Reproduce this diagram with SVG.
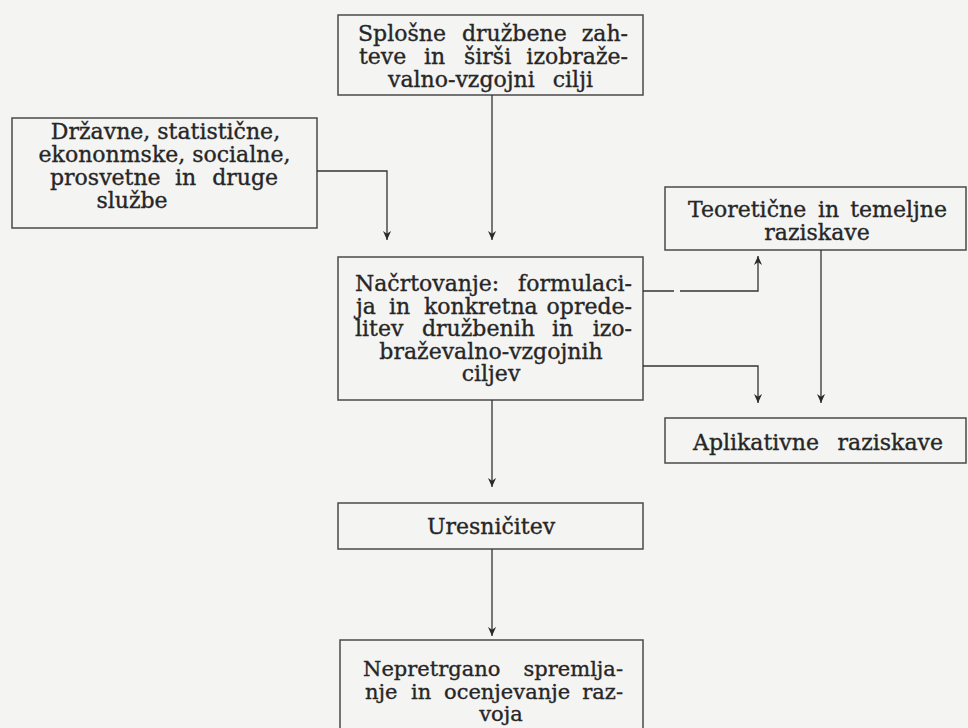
<svg xmlns="http://www.w3.org/2000/svg" width="968" height="728" viewBox="0 0 968 728">
<defs>
<marker id="arr" viewBox="0 0 10 10" refX="10" refY="5" markerWidth="9" markerHeight="9" markerUnits="userSpaceOnUse" orient="auto">
<path d="M0,0.5 L10,5 L0,9.5 L3,5 z" fill="#2a2a2a"/>
</marker>
</defs>
<style>
.box{fill:none;stroke:#4a4a4a;stroke-width:1.5}
.t{font-family:"DejaVu Serif","Liberation Serif",serif;font-size:22px;fill:#262626;stroke:#262626;stroke-width:0.35}
.s{font-size:21px}
.c{text-anchor:middle}
.e{text-anchor:end}
.ln{fill:none;stroke:#333;stroke-width:1.3}
</style>
<rect width="968" height="728" fill="#f4f4f3"/>

<g id="node-splosne">
<rect class="box" x="338" y="15" width="305" height="80"/>
<text class="t" y="41"><tspan x="358">Splošne</tspan><tspan x="462">družbene</tspan><tspan x="628" class="e">zah-</tspan></text>
<text class="t" y="64"><tspan x="359">teve</tspan><tspan x="424">in</tspan><tspan x="464">širši</tspan><tspan x="628" class="e">izobraže-</tspan></text>
<text class="t" y="87"><tspan x="388">valno-vzgojni</tspan><tspan x="593" class="e">cilji</tspan></text>
</g>

<g id="node-sluzbe">
<rect class="box" x="12" y="118" width="305" height="110"/>
<text class="t c" x="165.5" y="139">Državne, statistične,</text>
<text class="t c" x="164.5" y="162">ekononmske, socialne,</text>
<text class="t" y="185"><tspan x="50">prosvetne</tspan><tspan x="175">in</tspan><tspan x="278" class="e">druge</tspan></text>
<text class="t c" x="132" y="208">službe</text>
</g>

<g id="node-nacrtovanje">
<rect class="box" x="338" y="257" width="305" height="143"/>
<text class="t" y="291"><tspan x="355">Načrtovanje:</tspan><tspan x="632" class="e">formulaci-</tspan></text>
<text class="t" y="313.6"><tspan x="356">ja</tspan><tspan x="389">in</tspan><tspan x="424">konkretna</tspan><tspan x="632" class="e">oprede-</tspan></text>
<text class="t" y="336.2"><tspan x="355">litev</tspan><tspan x="422">družbenih</tspan><tspan x="552">in</tspan><tspan x="632" class="e">izo-</tspan></text>
<text class="t c" x="491" y="358.8">braževalno-vzgojnih</text>
<text class="t c" x="491" y="381.4">ciljev</text>
</g>

<g id="node-teoreticne">
<rect class="box" x="665" y="187" width="301" height="63"/>
<text class="t" y="217"><tspan x="688">Teoretične</tspan><tspan x="818">in</tspan><tspan x="947" class="e">temeljne</tspan></text>
<text class="t c" x="817" y="240">raziskave</text>
</g>

<g id="node-aplikativne">
<rect class="box" x="665" y="418" width="301" height="45"/>
<text class="t" y="450"><tspan x="693">Aplikativne</tspan><tspan x="943" class="e">raziskave</tspan></text>
</g>

<g id="node-uresnicitev">
<rect class="box" x="338" y="503" width="305" height="46"/>
<text class="t c" x="491" y="534">Uresničitev</text>
</g>

<g id="node-spremljanje">
<rect class="box" x="340" y="640" width="303" height="110"/>
<text class="t s" y="676"><tspan x="363">Nepretrgano</tspan><tspan x="623" class="e">spremlja-</tspan></text>
<text class="t s" y="698.5"><tspan x="365">nje</tspan><tspan x="411">in</tspan><tspan x="444">ocenjevanje</tspan><tspan x="623" class="e">raz-</tspan></text>
<text class="t s c" x="501" y="721">voja</text>
</g>

<g id="connectors">
<path class="ln" d="M317,171 H387 V240" marker-end="url(#arr)"/>
<path class="ln" d="M492,95 V240" marker-end="url(#arr)"/>
<path class="ln" d="M492,400 V487" marker-end="url(#arr)"/>
<path class="ln" d="M492,549 V636" marker-end="url(#arr)"/>
<path class="ln" d="M643,291 H674 M680,291 H758 V256" marker-end="url(#arr)"/>
<path class="ln" d="M643,366 H758 V403" marker-end="url(#arr)"/>
<path class="ln" d="M821,250 V403" marker-end="url(#arr)"/>
</g>
</svg>
